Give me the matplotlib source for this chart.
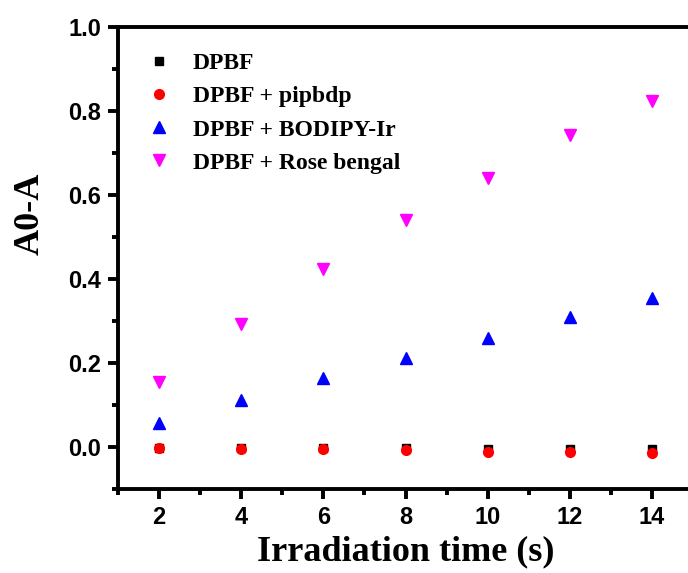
import matplotlib
matplotlib.use("Agg")
import matplotlib.pyplot as plt
from matplotlib.ticker import MultipleLocator

time_s = [2, 4, 6, 8, 10, 12, 14]
dpbf = [-0.003, -0.003, -0.003, -0.003, -0.004, -0.004, -0.004]
dpbf_pipbdp = [-0.003, -0.004, -0.005, -0.008, -0.011, -0.013, -0.014]
dpbf_bodipy_ir = [0.057, 0.112, 0.165, 0.213, 0.260, 0.310, 0.354]
dpbf_rose_bengal = [0.155, 0.292, 0.423, 0.541, 0.641, 0.742, 0.823]

labels = ["DPBF", "DPBF + pipbdp", "DPBF + BODIPY-Ir", "DPBF + Rose bengal"]
xtick_labels = ["2", "4", "6", "8", "10", "12", "14"]
ytick_values = [0.0, 0.2, 0.4, 0.6, 0.8, 1.0]
ytick_labels = ["0.0", "0.2", "0.4", "0.6", "0.8", "1.0"]

fig = plt.figure(figsize=(6.88, 5.73), dpi=100)
ax = fig.add_axes([118/688, 1 - 489/573, (693 - 118)/688, (489 - 27)/573])

ax.plot(time_s, dpbf, linestyle="none", marker="s", color="black", markersize=6, label=labels[0])
ax.plot(time_s, dpbf_pipbdp, linestyle="none", marker="o", color="red", markersize=7, label=labels[1])
ax.plot(time_s, dpbf_bodipy_ir, linestyle="none", marker="^", color="blue", markersize=8, label=labels[2])
ax.plot(time_s, dpbf_rose_bengal, linestyle="none", marker="v", color="magenta", markersize=8, label=labels[3])

ax.set_xlim(1, 15)
ax.set_ylim(-0.1, 1.0)
ax.xaxis.set_minor_locator(MultipleLocator(1))
ax.yaxis.set_minor_locator(MultipleLocator(0.1))

for s in ax.spines.values():
    s.set_linewidth(2.8)
ax.tick_params(which="major", direction="out", length=7, width=2.8, pad=5)
ax.tick_params(which="minor", direction="out", length=4, width=2.8)
ax.set_xticks(time_s)
ax.set_xticklabels(xtick_labels, fontfamily="Liberation Sans", fontweight="bold", fontsize=17)
ax.set_yticks(ytick_values)
ax.set_yticklabels(ytick_labels, fontfamily="Liberation Sans", fontweight="bold", fontsize=17)

ax.set_xlabel("Irradiation time (s)", fontfamily="Liberation Serif", fontweight="bold", fontsize=26)
ax.xaxis.set_label_coords((406 - 118) / 575, -(552 - 489) / 462)
ax.xaxis.label.set_va("center")
ax.set_ylabel("A0-A", fontfamily="Liberation Serif", fontweight="bold", fontsize=26)
ax.yaxis.set_label_coords(-(118 - 30) / 575, (489 - 214) / 462)
ax.yaxis.label.set_va("center")

leg = ax.legend(loc="upper left", frameon=False, bbox_to_anchor=(0.005, 0.99),
                prop={"family": "Liberation Serif", "weight": "bold", "size": 17},
                handletextpad=0.74, labelspacing=0.49, handlelength=1.4)

fig.savefig("out.png", dpi=100)
